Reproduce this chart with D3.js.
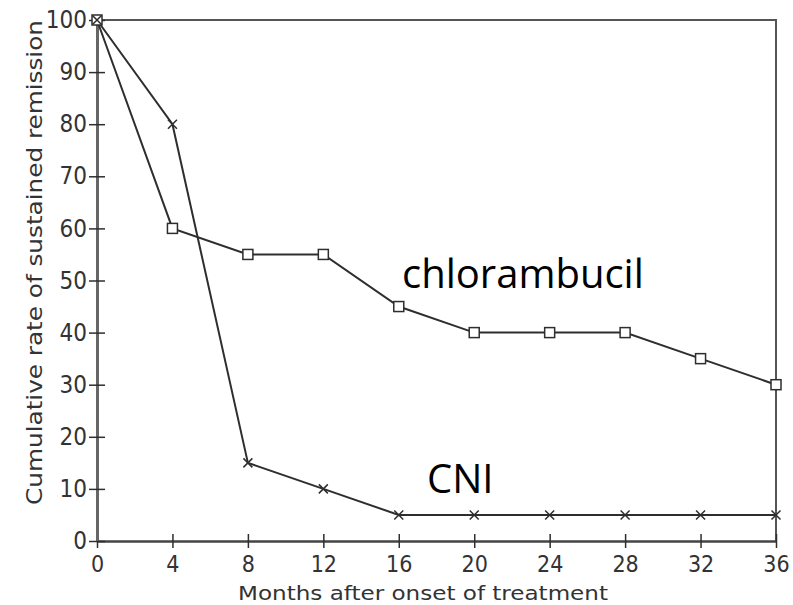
<!DOCTYPE html>
<html>
<head>
<meta charset="utf-8">
<script src="https://cdn.jsdelivr.net/npm/d3@7"></script>
<style>
  body { margin: 0; background: #fff; }
  svg { display: block; }
  .tick text { font-family: "DejaVu Sans Condensed", "DejaVu Sans", sans-serif; fill: #333; }
</style>
</head>
<body>
<svg id="chart" width="793" height="605"></svg>
<script>
// months after onset of treatment
var months = [0, 4, 8, 12, 16, 20, 24, 28, 32, 36];
// cumulative rate of sustained remission (%)
var chlorambucil = [100, 60, 55, 55, 45, 40, 40, 40, 35, 30];
var cni = [100, 80, 15, 10, 5, 5, 5, 5, 5, 5];
var yTicks = [0, 10, 20, 30, 40, 50, 60, 70, 80, 90, 100];

var svg = d3.select('#chart');
var ink = '#2e2e2e';

var x = d3.scaleLinear().domain([0, 36]).range([97, 776]);
var y = d3.scaleLinear().domain([0, 100]).range([541, 20]);

//frame: top and right edges
svg.append('path')
    .attr('d', 'M' + x(0) + ',' + y(100) + 'H' + x(36) + 'V' + y(0))
    .attr('fill', 'none')
    .attr('stroke', '#555')
    .attr('stroke-width', 2);

//x axis, ticks cross the line
var xAxis = svg.append('g')
    .attr('transform', 'translate(0,' + y(0) + ')')
    .call(d3.axisBottom(x).tickValues(months).tickSize(7).tickSizeOuter(0));
xAxis.selectAll('.tick line').attr('y1', -7).attr('stroke', ink).attr('stroke-width', 1.5);
xAxis.select('.domain').attr('stroke', '#444').attr('stroke-width', 2.5);
xAxis.selectAll('.tick text').attr('y', 15).attr('dy', '0.71em').style('font-size', '23px');

//y axis
var yAxis = svg.append('g')
    .attr('transform', 'translate(' + x(0) + ',0)')
    .call(d3.axisLeft(y).tickValues(yTicks).tickSize(8).tickSizeOuter(0));
yAxis.selectAll('.tick line').attr('x1', 8).attr('stroke', ink).attr('stroke-width', 1.5);
yAxis.select('.domain').attr('stroke', '#666').attr('stroke-width', 3);
yAxis.selectAll('.tick text').attr('x', -10).style('font-size', '24px');

//axis titles
svg.append('text')
    .attr('x', 238)
    .attr('y', 600)
    .attr('textLength', 370)
    .attr('lengthAdjust', 'spacingAndGlyphs')
    .style('font-family', '"DejaVu Sans Condensed", "DejaVu Sans", sans-serif')
    .style('font-size', '19px')
    .style('fill', '#333')
    .text('Months after onset of treatment');

svg.append('text')
    .attr('transform', 'translate(42,505) rotate(-90)')
    .attr('textLength', 485)
    .attr('lengthAdjust', 'spacingAndGlyphs')
    .style('font-family', '"DejaVu Sans Condensed", "DejaVu Sans", sans-serif')
    .style('font-size', '22px')
    .style('fill', '#333')
    .text('Cumulative rate of sustained remission');

var line = d3.line()
    .x(function(d) { return x(d[0]); })
    .y(function(d) { return y(d[1]); });

var chlData = months.map(function(m, i) { return [m, chlorambucil[i]]; });
var cniData = months.map(function(m, i) { return [m, cni[i]]; });

[chlData, cniData].forEach(function(data) {
    svg.append('path')
        .datum(data)
        .attr('d', line)
        .attr('fill', 'none')
        .attr('stroke', ink)
        .attr('stroke-width', 2);
});

//square markers
svg.selectAll('rect.sq')
    .data(chlData)
    .enter()
    .append('rect')
    .attr('class', 'sq')
    .attr('x', function(d) { return x(d[0]) - 5; })
    .attr('y', function(d) { return y(d[1]) - 5; })
    .attr('width', 10)
    .attr('height', 10)
    .attr('fill', '#fff')
    .attr('stroke', ink)
    .attr('stroke-width', 1.5);

//cross markers
svg.selectAll('path.cross')
    .data(cniData)
    .enter()
    .append('path')
    .attr('class', 'cross')
    .attr('d', function(d) {
        var cx = x(d[0]), cy = y(d[1]), s = 4.5;
        return 'M' + (cx - s) + ',' + (cy - s) + 'L' + (cx + s) + ',' + (cy + s) +
               'M' + (cx - s) + ',' + (cy + s) + 'L' + (cx + s) + ',' + (cy - s);
    })
    .attr('stroke', ink)
    .attr('stroke-width', 1.5);

//series labels
svg.append('text')
    .attr('x', 402)
    .attr('y', 288)
    .style('font-family', '"Open Sans", sans-serif')
    .style('font-size', '40px')
    .style('fill', '#000')
    .text('chlorambucil');

svg.append('text')
    .attr('x', 427)
    .attr('y', 493)
    .style('font-family', '"Open Sans", sans-serif')
    .style('font-size', '40px')
    .style('fill', '#000')
    .text('CNI');
</script>
</body>
</html>
